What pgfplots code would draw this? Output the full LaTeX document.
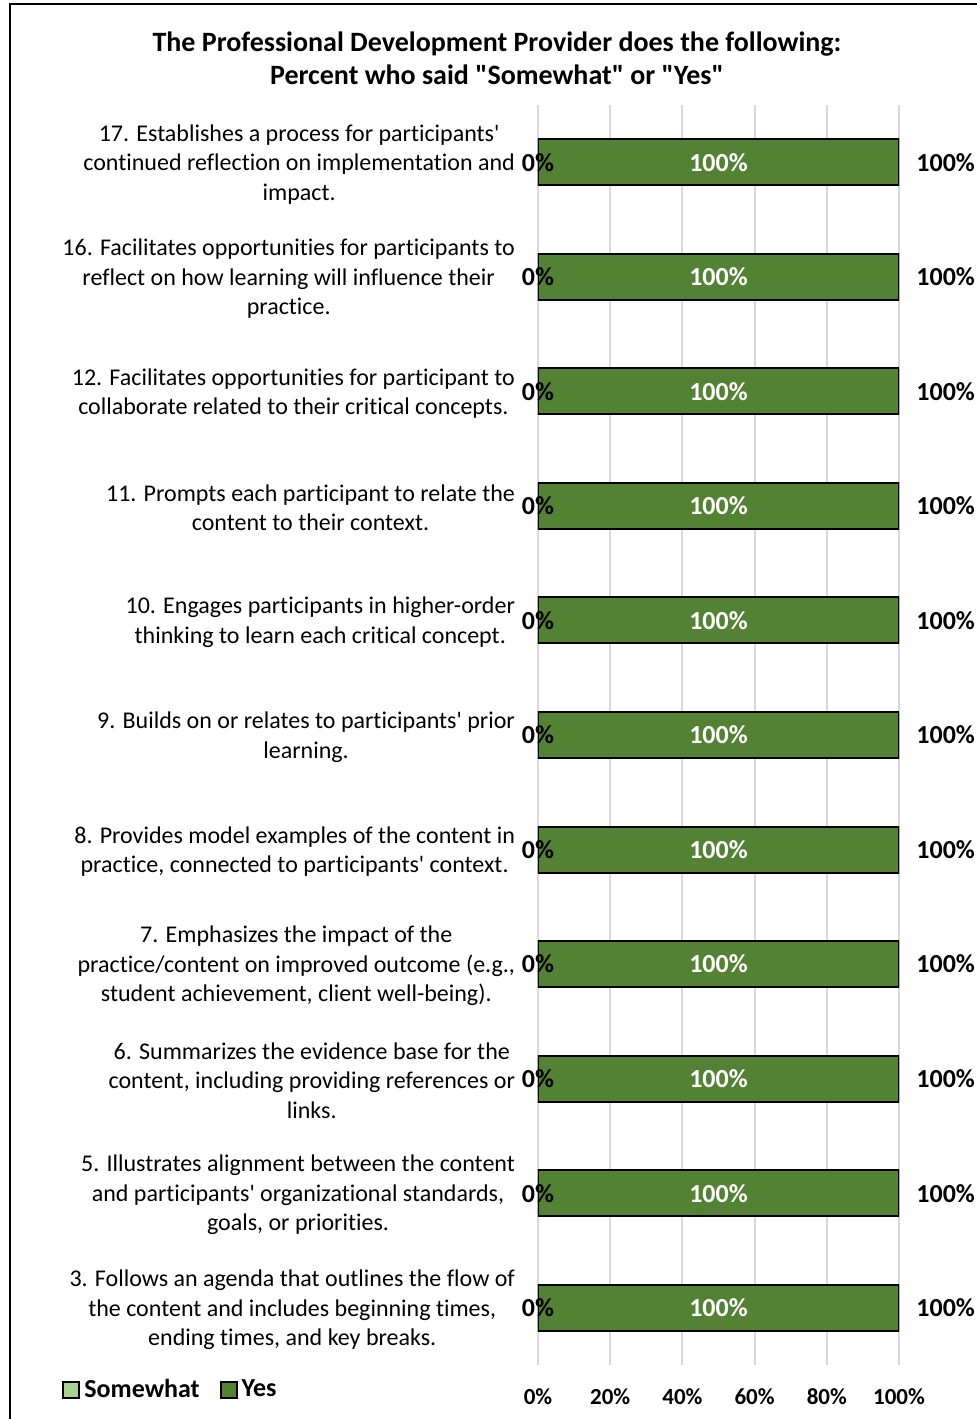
\documentclass[border=0pt]{standalone}
\usepackage{fontspec}
\setmainfont{Carlito}[Ligatures={TeXOff,NoCommon}]
\usepackage{pgfplots}
\usepackage{pgfplotstable}
\pgfplotsset{compat=1.18}
\definecolor{somewhat}{HTML}{A9D08E}
\definecolor{yes}{HTML}{548235}
\definecolor{gridgray}{HTML}{D9D9D9}
\pgfplotstableread{
idx somewhat yes total
0 0 100 100
1 0 100 100
2 0 100 100
3 0 100 100
4 0 100 100
5 0 100 100
6 0 100 100
7 0 100 100
8 0 100 100
9 0 100 100
10 0 100 100
}\datatable
\tikzset{lbl/.style={font=\fontsize{13}{15}\selectfont\bfseries}}
\pgfplotsset{
  commonaxis/.style={
    at={(269pt,27pt)}, anchor=south west,
    scale only axis, width=180.5pt, height=630pt,
    xmin=0, xmax=100, ymin=-0.5, ymax=10.5,
    y dir=reverse,
    enlarge x limits=false, enlarge y limits=false,
    /pgf/number format/assume math mode=true,
  },
}
\begin{document}
\begin{tikzpicture}
\useasboundingbox (0,0) rectangle (488pt,709.5pt);
\draw[line width=1pt] (5pt,0pt) -- (5pt,707.5pt) -- (490pt,707.5pt);
\begin{axis}[
  commonaxis,
  xbar stacked, bar width=23pt,
  axis line style={draw=none},
  major tick length=0pt,
  xmajorgrids, grid style={gridgray, line width=1pt},
  xtick={0,20,40,60,80,100},
  xticklabels={0\%,20\%,40\%,60\%,80\%,100\%},
  xticklabel style={font=\fontsize{11.5}{13}\selectfont\bfseries, yshift=-8.5pt},
  ytick={0,...,10},
  yticklabels={
    {17. Establishes a process for participants'\\continued reflection on implementation and\\impact.},
    {16. Facilitates opportunities for participants to\\reflect on how learning will influence their\\practice.},
    {12. Facilitates opportunities for participant to\\collaborate related to their critical concepts.},
    {11. Prompts each participant to relate the\\content to their context.},
    {10. Engages participants in higher-order\\thinking to learn each critical concept.},
    {9. Builds on or relates to participants' prior\\learning.},
    {8. Provides model examples of the content in\\practice, connected to participants' context.},
    {7. Emphasizes the impact of the\\practice/content on improved outcome (e.g.,\\student achievement, client well-being).},
    {6. Summarizes the evidence base for the\\content, including providing references or\\links.},
    {5. Illustrates alignment between the content\\and participants' organizational standards,\\goals, or priorities.},
    {3. Follows an agenda that outlines the flow of\\the content and includes beginning times,\\ending times, and key breaks.}
  },
  yticklabel style={align=center, font=\fontsize{12}{14.75}\selectfont, xshift=-8pt, yshift=-1pt},
  title={The Professional Development Provider does the following:\\Percent who said "Somewhat" or "Yes"},
  title style={align=center, font=\fontsize{14}{16.5}\selectfont\bfseries, at={(-0.1136,1.0278)}, anchor=center},
  legend style={at={(-1.3186,-0.0195)}, anchor=west, draw=none, inner sep=0pt,
    legend columns=2, font=\fontsize{13}{15}\selectfont\bfseries,
    /tikz/every even column/.append style={column sep=8pt}},
  legend image code/.code={\draw[#1, draw=black, line width=1pt] (0pt,-4pt) rectangle (8pt,4pt);},
]
\addplot[fill=somewhat, draw=black, line width=1pt]
  table[x=somewhat, y=idx] {\datatable};
\addlegendentry{Somewhat}
\addplot[fill=yes, draw=black, line width=1pt,
  point meta=explicit, nodes near coords={\pgfmathprintnumber{\pgfplotspointmeta}\%},
  nodes near coords align={center},
  every node near coord/.append style={lbl, text=white, anchor=center}]
  table[x=yes, y=idx, meta=yes] {\datatable};
\addlegendentry{Yes}
\end{axis}
\begin{axis}[
  commonaxis, hide axis,
]
\addplot[draw=none, mark=none,
  point meta=explicit, nodes near coords={\pgfmathprintnumber{\pgfplotspointmeta}\%},
  every node near coord/.append style={lbl, text=black, anchor=center}]
  table[x=somewhat, y=idx, meta=somewhat] {\datatable};
\addplot[draw=none, mark=none,
  point meta=explicit, nodes near coords={\pgfmathprintnumber{\pgfplotspointmeta}\%},
  every node near coord/.append style={lbl, text=black, anchor=west, inner sep=0pt, xshift=8.5pt}]
  table[x=total, y=idx, meta=total] {\datatable};
\end{axis}
\end{tikzpicture}
\end{document}
